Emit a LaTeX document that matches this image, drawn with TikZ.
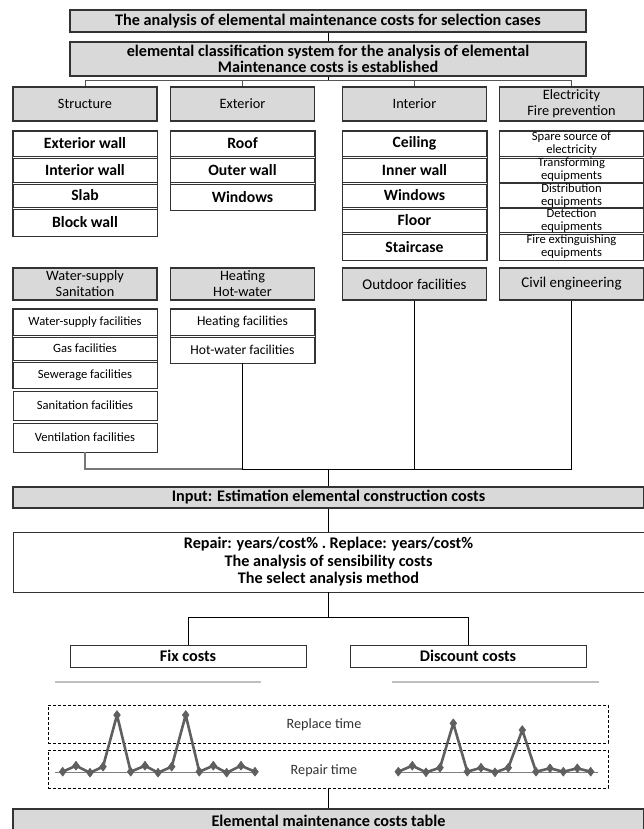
\documentclass[tikz,border=0pt]{standalone}
\usepackage{fontspec}
\setmainfont{Carlito}
\usetikzlibrary{plotmarks}
\definecolor{hdrgray}{HTML}{D9D9D9}
\definecolor{edgegray}{HTML}{333333}
\definecolor{plotgray}{HTML}{5F5F5F}
\definecolor{rulegray}{HTML}{BFBFBF}
\definecolor{busgray}{HTML}{555555}
\begin{document}
\begin{tikzpicture}[x=1pt,y=-1pt,
  box/.style={draw=edgegray, line width=0.9pt, inner sep=0pt, align=center, text=black},
  hdr/.style={box, fill=hdrgray, line width=1.1pt},
  colw/.style={minimum width=144pt},
  wide/.style={minimum width=631pt},
  tall/.style={minimum height=#1pt},
  big/.style={font=\fontsize{16.2}{17.5}\selectfont\bfseries},
  cat/.style={font=\fontsize{14.3}{16}\selectfont},
  itm/.style={font=\fontsize{15.7}{17}\selectfont\bfseries},
  sml/.style={font=\fontsize{12.6}{13.2}\selectfont},
  wsm/.style={font=\fontsize{13.6}{15}\selectfont},
  frame/.style={draw=edgegray, line width=0.9pt},
  conn/.style={draw=black, line width=0.8pt},
  busline/.style={draw=busgray, line width=0.9pt},
  dbox/.style={draw=black, dashed, dash pattern=on 3pt off 2pt, line width=0.7pt, inner sep=0pt, minimum width=560pt, minimum height=38pt},
  dlabel/.style={font=\fontsize{14.2}{16}\selectfont, text=black!80},
  curve/.style={draw=plotgray, line width=2.6pt, line join=round, mark=diamond*, mark size=4.5pt, mark options={fill=plotgray, draw=plotgray, line width=0.5pt}},
  baseln/.style={draw=plotgray!80, line width=0.8pt}
]
\useasboundingbox (0,0) rectangle (644,829);
\clip (0,0) rectangle (644,829);
\fill[white] (0,0) rectangle (644,829);

% top boxes
\node[hdr, big, minimum width=516pt, tall=22] (t1) at (328,21) {The analysis of elemental maintenance costs for selection cases};
\node[hdr, big, minimum width=516pt, tall=34, font=\fontsize{16.2}{16}\selectfont\bfseries] (t2) at (328,59) {elemental classification system for the analysis of elemental\\Maintenance costs is established};

% category row 1
\node[hdr, cat, colw, tall=34] (cS) at (85,104) {Structure};
\node[hdr, cat, colw, tall=34] (cE) at (242.5,104) {Exterior};
\node[hdr, cat, colw, tall=34] (cI) at (414.5,104) {Interior};
\node[hdr, cat, colw, tall=34] (cX) at (571.5,104) {Electricity\\Fire prevention};

\coordinate (busL) at (85,80);
\draw[conn] (t1.south) -- (t2.south |- t2.north);
\draw[conn] (t2.south) -- (t2.south |- busL);
\draw[busline] (cS.north) -- (cS.north |- busL) -- (cX.north |- busL) -- (cX.north);
\draw[busline] (cE.north) -- (cE.north |- busL);
\draw[busline] (cI.north) -- (cI.north |- busL);

% Structure items
\node[box, itm, colw, tall=25] (s1) at (85,143.5) {Exterior wall};
\node[box, itm, colw, tall=24] (s2) at (85,170) {Interior wall};
\node[box, itm, colw, tall=23] (s3) at (85,195.5) {Slab};
\node[box, itm, colw, tall=27] (s4) at (85,222.5) {Block wall};
\draw[frame] (s1.north west) rectangle (s4.south east);

% Exterior items
\node[box, itm, colw, tall=25] (e1) at (242.5,143.5) {Roof};
\node[box, itm, colw, tall=24] (e2) at (242.5,170) {Outer wall};
\node[box, itm, colw, tall=26] (e3) at (242.5,197) {Windows};
\draw[frame] (e1.north west) rectangle (e3.south east);

% Interior items
\node[box, itm, colw, tall=25] (i1) at (414.5,143.5) {Ceiling};
\node[box, itm, colw, tall=24] (i2) at (414.5,170) {Inner wall};
\node[box, itm, colw, tall=23] (i3) at (414.5,195.5) {Windows};
\node[box, itm, colw, tall=23] (i4) at (414.5,220.5) {Floor};
\node[box, itm, colw, tall=26] (i5) at (414.5,247) {Staircase};
\draw[frame] (i1.north west) rectangle (i5.south east);

% Electricity items
\node[box, sml, colw, tall=25] (x1) at (571.5,143.5) {Spare source of\\electricity};
\node[box, sml, colw, tall=24] (x2) at (571.5,170) {Transforming\\equipments};
\node[box, sml, colw, tall=23] (x3) at (571.5,195.5) {Distribution\\equipments};
\node[box, sml, colw, tall=23] (x4) at (571.5,220.5) {Detection\\equipments};
\node[box, sml, colw, tall=26] (x5) at (571.5,247) {Fire extinguishing\\equipments};
\draw[frame] (x1.north west) rectangle (x5.south east);

% category row 2
\node[hdr, cat, colw, tall=32] (cW) at (85,284) {Water-supply\\Sanitation};
\node[hdr, cat, colw, tall=32] (cH) at (242.5,284) {Heating\\Hot-water};
\node[hdr, cat, colw, tall=32, font=\fontsize{14.9}{16}\selectfont] (cO) at (414.5,284) {Outdoor facilities};
\node[hdr, cat, colw, tall=32, font=\fontsize{14.9}{16}\selectfont] (cC) at (571.5,284) {Civil engineering};

% Water items
\node[box, sml, colw, tall=26] (w1) at (85,322) {Water-supply facilities};
\node[box, sml, colw, tall=23] (w2) at (85,348.5) {Gas facilities};
\node[box, sml, colw, tall=26] (w3) at (85,375) {Sewerage facilities};
\draw[frame] (w1.north west) rectangle (w3.south east);
\node[box, sml, colw, tall=29] (w4) at (85,405.5) {Sanitation facilities};
\node[box, sml, colw, tall=29] (w5) at (85,437.5) {Ventilation facilities};

% Heating items
\node[box, wsm, colw, tall=26] (h1) at (242.5,322) {Heating facilities};
\node[box, wsm, colw, tall=26] (h2) at (242.5,350) {Hot-water facilities};
\draw[frame] (h1.north west) rectangle (h2.south east);

% join
\coordinate (jn) at (328.5,469);
\draw[draw=busgray!80, line width=1.1pt] (w5.south) -- (w5.south |- jn) -- (h2.south |- jn);
\draw[conn] (h2.south) -- (h2.south |- jn) -- (cC.south |- jn) -- (cC.south);
\draw[conn] (cO.south) -- (cO.south |- jn);

% input
\node[hdr, big, wide, tall=21] (inp) at (328.5,497.5) {Input: Estimation elemental construction costs};
\draw[conn] (jn) -- (inp.north);

\node[box, big, wide, tall=60] (mid) at (328.5,562) {Repair: years/cost\% .\ Replace: years/cost\%\\The analysis of sensibility costs\\The select analysis method};
\draw[conn] (inp.south) -- (mid.north);

\node[box, big, minimum width=236pt, tall=22] (fix) at (188,656) {Fix costs};
\node[box, big, minimum width=236pt, tall=22] (dsc) at (468,656) {Discount costs};
\coordinate (sp) at (328.5,617);
\draw[conn] (mid.south) -- (sp);
\draw[conn] (fix.north) -- (fix.north |- sp) -- (dsc.north |- sp) -- (dsc.north);

% grey rules
\draw[rulegray, line width=1.6pt] (55,682) -- (261,682);
\draw[rulegray, line width=1.6pt] (392,682) -- (599,682);

% dashed boxes
\node[dbox] (rpl) at (328,724) {};
\node[dbox] (rpr) at (328,769) {};
\node[dlabel] (rplt) at (324,725) {Replace time};
\node[dlabel] (rprt) at (324,771) {Repair time};

% plots
\draw[baseln] (55,772) -- (257,772);
\draw[baseln] (395,772) -- (598,772);
\draw[curve] plot coordinates {(62.7,771.7) (76,765.7) (90,772.7) (103,766.7) (117,715) (130.7,771.7) (145,765.7) (158,772.7) (171.7,766.7) (185.7,715) (199.3,771.7) (213.3,765.7) (226.7,772.7) (241,765.7) (255,771.7)};
\draw[curve] plot coordinates {(398.3,771.7) (412.3,765.7) (426,772.3) (440,767.7) (453.3,723.3) (467.3,771.7) (481,767.7) (495,772.3) (508.3,767.7) (522.3,730) (536,771.7) (550,768.3) (563.3,771.7) (577.3,768.3) (590.7,771.7)};

% result
\node[hdr, big, wide, tall=26] (res) at (328.5,822) {};
\node[big, inner sep=0pt, anchor=base] (rest) at (328.5,826) {Elemental maintenance costs table};
\draw[conn] (rpr.south) -- (rpr.south |- res.north);
\end{tikzpicture}
\end{document}
